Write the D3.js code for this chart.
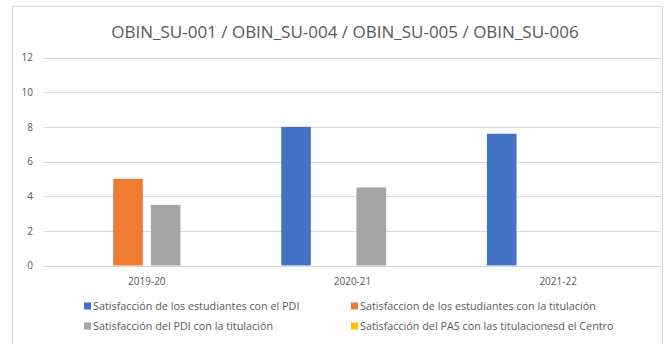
<!DOCTYPE html>
<html>
<head>
<meta charset="utf-8">
<script src="https://cdn.jsdelivr.net/npm/d3@7"></script>
<style>
  html, body { margin: 0; padding: 0; background: #fff; }
  svg { display: block; }
  text { font-family: "Open Sans", "Noto Sans", sans-serif; }
</style>
</head>
<body>
<svg id="chart" width="665" height="344"></svg>
<script>
// Academic years on the x axis
const years = ["2019-20", "2020-21", "2021-22"];

// One value list per survey indicator (null = no result that year)
const estudiantesPDI = [null, 8, 7.6];
const estudiantesTitulacion = [5, null, null];
const pdiTitulacion = [3.5, 4.5, null];
const pasCentro = [null, null, null];

const seriesNames = [
  "Satisfacción de los estudiantes con el PDI",
  "Satisfaccion de los estudiantes con la titulación",
  "Satisfacción del PDI con la titulación",
  "Satisfacción del PAS con las titulacionesd el Centro"
];
const seriesColors = ["#4472C4", "#ED7D31", "#A5A5A5", "#FFC000"];
const yTicks = [0, 2, 4, 6, 8, 10, 12];
const chartTitle = "OBIN_SU-001 / OBIN_SU-004 / OBIN_SU-005 / OBIN_SU-006";

const seriesValues = [estudiantesPDI, estudiantesTitulacion, pdiTitulacion, pasCentro];

const svg = d3.select("#chart");

// chart frame
svg.append("rect")
  .attr("x", 12.5).attr("y", 6.5)
  .attr("width", 650).attr("height", 340)
  .attr("fill", "#fff")
  .attr("stroke", "#d9d9d9");

svg.append("text")
  .attr("x", 345).attr("y", 38)
  .attr("text-anchor", "middle")
  .attr("font-size", 17)
  .attr("fill", "#595959")
  .text(chartTitle);

const plotLeft = 44, plotRight = 661;
const y = d3.scaleLinear().domain([0, 12]).range([265.5, 57.5]);

const x0 = d3.scaleBand().domain(years).range([plotLeft, plotRight])
  .paddingInner(0.307).paddingOuter(0.1535);
const x1 = d3.scaleBand().domain(d3.range(seriesNames.length))
  .range([0, x0.bandwidth()]).paddingInner(0.213).paddingOuter(0);

// horizontal gridlines
svg.append("g").selectAll("line").data(yTicks).join("line")
  .attr("x1", plotLeft).attr("x2", plotRight)
  .attr("y1", d => Math.round(y(d)) + 0.5).attr("y2", d => Math.round(y(d)) + 0.5)
  .attr("stroke", "#d9d9d9").attr("stroke-width", 1);

// y axis labels
const yAxis = d3.axisLeft(y).tickValues(yTicks).tickSize(0).tickPadding(0);
const gy = svg.append("g").attr("transform", `translate(${plotLeft - 11},0)`).call(yAxis);
gy.select(".domain").remove();
gy.selectAll("text").attr("font-size", 10).attr("fill", "#595959")
  .style("font-family", "'Open Sans', 'Noto Sans', sans-serif");

// bars
const rows = years.map((yr, i) => ({ yr, vals: seriesValues.map(s => s[i]) }));
svg.append("g").selectAll("g").data(rows).join("g")
  .attr("transform", d => `translate(${x0(d.yr)},0)`)
  .selectAll("rect")
  .data(d => d.vals.map((v, k) => ({ v, k })).filter(e => e.v != null))
  .join("rect")
  .attr("x", e => x1(e.k))
  .attr("width", x1.bandwidth())
  .attr("y", e => y(e.v))
  .attr("height", e => y(0) - y(e.v))
  .attr("fill", e => seriesColors[e.k]);

// x axis labels
const xAxis = d3.axisBottom(x0).tickSize(0).tickPadding(0);
const gx = svg.append("g").attr("transform", `translate(0,${y(0) + 19})`).call(xAxis);
gx.select(".domain").remove();
gx.selectAll("text").attr("font-size", 10).attr("fill", "#595959").attr("dy", 0)
  .style("font-family", "'Open Sans', 'Noto Sans', sans-serif");

// legend, two columns by two rows
const legendPos = [[84, 306], [351, 306], [84, 326], [351, 326]];
const lg = svg.append("g").selectAll("g").data(seriesNames).join("g")
  .attr("transform", (d, i) => `translate(${legendPos[i][0]},${legendPos[i][1]})`);
lg.append("rect").attr("x", 0).attr("y", -3.5).attr("width", 7).attr("height", 7)
  .attr("fill", (d, i) => seriesColors[i]);
lg.append("text").attr("x", 9).attr("y", 0).attr("dy", "0.35em")
  .attr("font-size", 10.8).attr("fill", "#595959").text(d => d);
</script>
</body>
</html>
